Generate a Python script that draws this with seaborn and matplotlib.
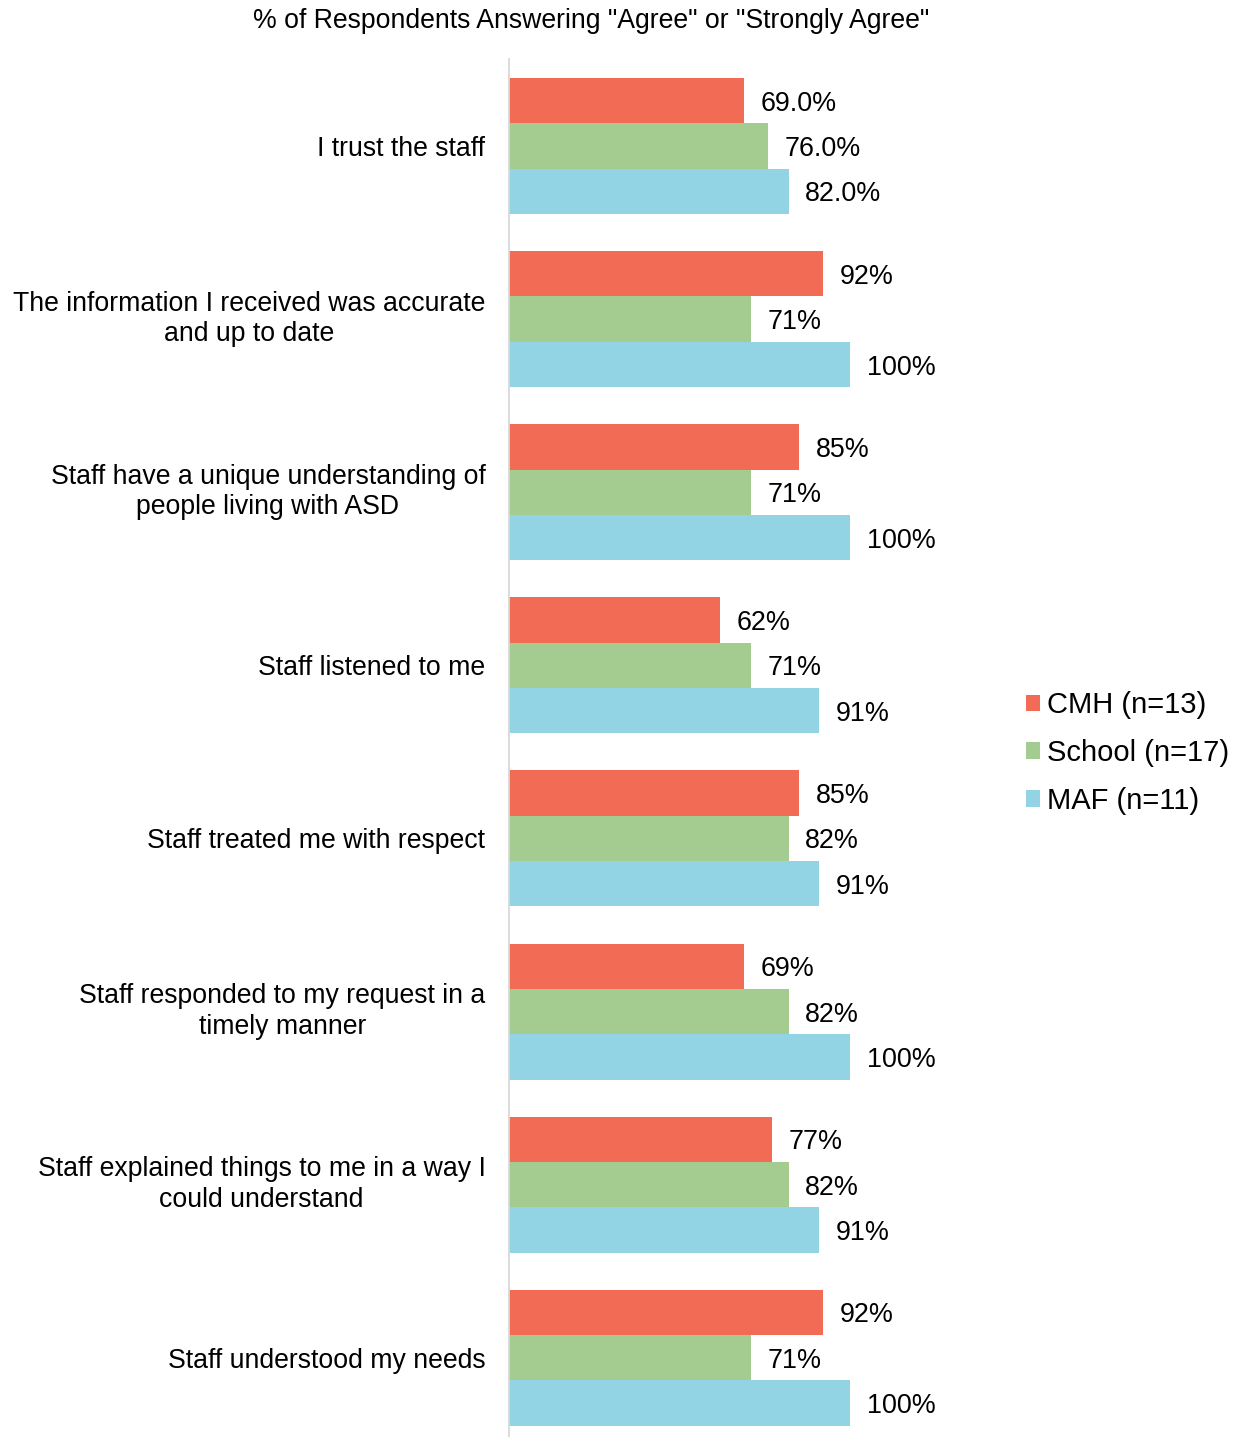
import matplotlib
matplotlib.use("Agg")
import matplotlib.pyplot as plt
import seaborn as sns
import pandas as pd
from matplotlib.patches import Patch

categories = [
    "I trust the staff",
    "The information I received was accurate\nand up to date",
    "Staff have a unique understanding of\npeople living with ASD",
    "Staff listened to me",
    "Staff treated me with respect",
    "Staff responded to my request in a\ntimely manner",
    "Staff explained things to me in a way I\ncould understand",
    "Staff understood my needs",
]
groups = ["CMH (n=13)", "School (n=17)", "MAF (n=11)"]
cmh = [69, 92, 85, 62, 85, 69, 77, 92]
school = [76, 71, 71, 71, 82, 82, 82, 71]
maf = [82, 100, 100, 91, 91, 100, 91, 100]
# decimals shown in the value labels of each question
label_decimals = [1, 0, 0, 0, 0, 0, 0, 0]
colors = ["#F26B55", "#A4CC91", "#93D4E4"]
title = '% of Respondents Answering "Agree" or "Strongly Agree"'

rows = []
for g, vals in zip(groups, [cmh, school, maf]):
    for c, v in zip(categories, vals):
        rows.append({"question": c, "group": g, "pct": v / 100})
df = pd.DataFrame(rows)

sns.set_theme(style="white")
plt.rcParams["font.family"] = ["Liberation Sans", "DejaVu Sans"]
plt.rcParams["text.color"] = "black"

W, H = 1241, 1437
fig = plt.figure(figsize=(W / 100, H / 100), dpi=100)
unit = 173.1
top_px = 59.5
left_px, xunit = 509.0, 341.0
xmax = 1.25
ax_h_px = unit * 8
ax = fig.add_axes([left_px / W, 1 - (top_px + ax_h_px) / H, xunit * xmax / W, ax_h_px / H])

sns.barplot(data=df, y="question", x="pct", hue="group", order=categories,
            hue_order=groups, palette=colors, orient="h", width=0.786,
            saturation=1, linewidth=0, legend=False, ax=ax)

ax.set_xlim(0, xmax)
ax.set_ylim(7.5, -0.5)
ax.set_xlabel("")
ax.set_ylabel("")
ax.set_xticks([])
for s in ["top", "right", "bottom"]:
    ax.spines[s].set_visible(False)
ax.spines["left"].set_color("#D9D9D9")
ax.spines["left"].set_linewidth(1.3)
ax.tick_params(axis="y", length=0, pad=17, labelsize=19.2, labelcolor="black")
for t in ax.get_yticklabels():
    t.set_multialignment("center")
    t.set_linespacing(1.22)
    t.set_va("center" if "\n" in t.get_text() else "center_baseline")

for container in ax.containers:
    labels = []
    for bar, dec in zip(container, label_decimals):
        labels.append(f"{bar.get_width() * 100:.{dec}f}%")
    texts = ax.bar_label(container, labels=labels, padding=12, fontsize=19.4, color="black")
    for t in texts:
        t.set_va("center_baseline")

fig.text(591 / W, 1 - 21 / H, title, ha="center", va="center", fontsize=19.2, color="black")

handles = [Patch(facecolor=c, edgecolor="none") for c in colors]
fig.legend(handles, groups, loc="center left", bbox_to_anchor=(1011 / W, 1 - 753 / H),
           frameon=False, fontsize=21, handlelength=0.5, handleheight=0.5,
           handletextpad=0.25, labelspacing=0.68, borderpad=0, labelcolor="black")

fig.savefig("out.png", dpi=100, facecolor="white")
